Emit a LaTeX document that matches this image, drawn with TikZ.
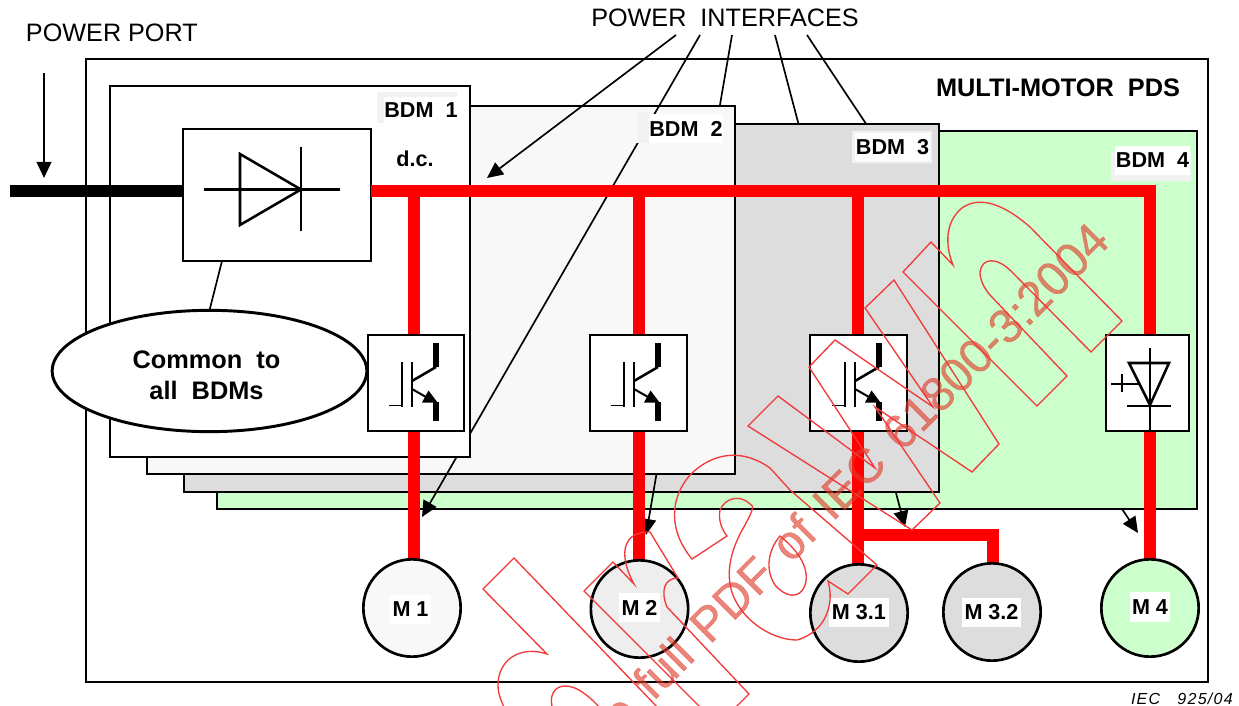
\documentclass[tikz,border=0pt]{standalone}
\usepackage{fontspec}
\setmainfont{Liberation Sans}
\newfontfamily\wmfont[FakeBold=0.5]{Liberation Sans}
\usetikzlibrary{arrows.meta,shapes.geometric}
\definecolor{bfour}{HTML}{CCFFCC}
\definecolor{bthree}{HTML}{DDDDDD}
\definecolor{btwo}{HTML}{F8F8F8}
\definecolor{mtwo}{HTML}{EEEEEE}
\definecolor{lshade}{HTML}{F2F2F2}
\definecolor{wmline}{HTML}{F23A3A}
\definecolor{wmtext}{HTML}{E03A28}
\newcommand\mybox[6]{\node[bx,fill=#6,minimum width={(#4-#2)*0.75pt},minimum height={(#5-#3)*0.75pt}] (#1) at ({(#2+#4)/2},{(#3+#5)/2}) {};}
\newcommand\mylabel[6]{\node[lab,minimum width={(#4-#2)*0.75pt},minimum height={(#5-#3)*0.75pt}] (#1) at ({(#2+#4)/2},{(#3+#5)/2}) {#6};}
\newcommand\myshade[5]{\node[shd,minimum width={(#4-#2)*0.75pt},minimum height={(#5-#3)*0.75pt}] (#1) at ({(#2+#4)/2},{(#3+#5)/2}) {};}
\tikzset{
  bx/.style={draw=black,line width=2.2pt,rectangle,inner sep=0pt,outer sep=0pt},
  lab/.style={fill=white,inner sep=0pt,outer sep=0pt,font=\fontsize{16.2}{18}\selectfont\bfseries},
  shd/.style={fill=lshade,inner sep=0pt,outer sep=0pt},
  mot/.style={circle,minimum size=73pt,inner sep=0pt,outer sep=0pt},
  bus/.style={draw=red,line width=8.8pt},
  lead/.style={draw=black,line width=1.25pt},
  arr/.style={lead,-{Triangle[length=12pt,width=11pt]}},
  sym/.style={draw=black,line width=1.9pt,line join=miter},
  captext/.style={inner sep=0pt,outer sep=0pt,font=\fontsize{18.9}{23}\selectfont},
  wm/.style={draw=wmline,line width=1pt,line join=miter},
  igbt/.pic={
    \draw[black,line width=4.4pt] (68,8) -- (68,32);
    \draw[black,line width=1.9pt] (68,32) -- (44,46);
    \draw[black,line width=1.4pt] (44,27) -- (44,72);
    \draw[black,line width=1.4pt] (34,27) -- (34,72);
    \draw[black,line width=.6pt] (21,70) -- (34,70);
    \draw[black,line width=1.5pt] (44,54) -- (58,62);
    \fill[black] (60.5,55.5) -- (54,67.5) -- (69.5,67.5) -- cycle;
    \draw[black,line width=4.4pt] (68,67) -- (68,86);
  }
}
\begin{document}
\begin{tikzpicture}[x=0.75pt,y=-0.75pt]
\useasboundingbox (0,0) rectangle (1239,706);

% outer frame
\mybox{pds}{86}{59}{1208}{682}{white}

% free ends of the interface leaders
\node[captext] (pi) at (725,18) {POWER\ \ INTERFACES};
\coordinate (ia) at (676,35);  \coordinate (ib) at (700,35);
\coordinate (ic) at (732,35);  \coordinate (id) at (775,35);
\coordinate (ie) at (807,35);
\coordinate (ta) at (487,178); \coordinate (tb) at (422,517);
\coordinate (tc) at (646,535); \coordinate (td) at (905,527);
\coordinate (te) at (1138,533);

% BDM blocks stacked, leaders pass under the blocks in front
\draw[arr] (ie) -- (te);
\mybox{bdmd}{217}{131}{1197}{509}{bfour}
\draw[arr] (id) -- (td);
\mybox{bdmc}{184}{124}{939}{492}{bthree}
\draw[arr] (ic) -- (tc);
\mybox{bdmb}{147}{106}{735}{474}{btwo}
\draw[arr] (ib) -- (tb);
\mybox{bdma}{110}{86}{470}{457}{white}
\draw[arr] (ia) -- (ta);

% power port
\node[captext,anchor=west] (port) at (26,33) {POWER PORT};
\coordinate (pa) at (44,73); \coordinate (pb) at (44,178);
\draw[arr] (pa) -- (pb);
\coordinate (wire) at (10,191);
\mybox{rect}{183}{129}{371}{261}{white}
\draw[black,line width=8.8pt] (wire) -- (wire -| rect.west);

% bus
\coordinate (busl) at (371,191);
\coordinate (busa) at (414,191);
\coordinate (busb) at (639,191);
\coordinate (busc) at (858,191);
\coordinate (busd) at (1150,191);
\coordinate (jun) at (858,535);
\coordinate (junr) at (993,535);

\mybox{swa}{368}{335}{464}{431}{white}
\mybox{swb}{590}{335}{687}{431}{white}
\mybox{swc}{810}{335}{907}{431}{white}
\mybox{swd}{1106}{335}{1189}{431}{white}

\node[mot] (ma) at (412,608) {};
\node[mot] (mb) at (639.5,609) {};
\node[mot] (mc) at (859,613) {};
\node[mot] (me) at (992,612) {};
\node[mot] (md) at (1150,608) {};

\draw[bus,line join=miter] (busl) -- (busd) -- (swd.north -| busd);
\draw[bus] (busa) -- (swa.north -| busa);
\draw[bus] (busb) -- (swb.north -| busb);
\draw[bus] (busc) -- (swc.north -| busc);
\draw[bus] (swa.south -| busa) -- (ma.north -| busa);
\draw[bus] (swb.south -| busb) -- (mb.north -| busb);
\draw[bus] (swc.south -| busc) -- (mc.north -| busc);
\draw[bus] (swd.south -| busd) -- (md.north -| busd);
\draw[bus,line join=miter] (jun) -- (junr) -- (me.north -| junr);

% box frames and motor circles over the red ends
\foreach \n in {swa,swb,swc,swd} {\draw[black,line width=2.2pt] (\n.north west) rectangle (\n.south east);}
\foreach \n/\c in {ma/btwo,mb/mtwo,mc/bthree,me/bthree,md/bfour} {\draw[black,line width=2pt,fill=\c] (\n) circle (36.5pt);}

% rectifier symbol
\draw[sym] (204,189.5) -- (340,189.5);
\draw[sym] (240,154) -- (240,225) -- (301,189.5) -- cycle;
\draw[sym] (301,147) -- (301,231);

% semiconductor symbols
\pic at (368,335) {igbt};
\pic at (590,335) {igbt};
\pic at (811,335) {igbt};
\draw[sym] (1150,348) -- (1150,431);
\draw[sym] (1129,363) -- (1169,363) -- (1150,405) -- cycle;
\draw[sym] (1127,406) -- (1171,406);
\draw[sym] (1111,384) -- (1139,384);
\draw[sym] (1122,374) -- (1122,392);

% common-to-all note
\node[ellipse,draw=black,line width=2.2pt,fill=white,minimum width=236pt,minimum height=91pt,inner sep=0pt,outer sep=0pt] (common) at (209.5,371) {};
\node[inner sep=0pt,align=center,font=\fontsize{19}{23.2}\selectfont\bfseries] (commontext) at (206.5,375) {Common\ \ to\\all\ \ BDMs};
\coordinate (cu) at (222,261);
\draw[lead] (cu) -- (common.north);

% labels
\myshade{sa}{377}{92}{457}{123}
\mylabel{la}{384}{97}{458}{123}{BDM\ \ 1}
\myshade{sb}{637}{112}{650}{143}
\mylabel{lb}{649}{114}{723}{143}{BDM\ \ 2}
\myshade{sc}{852}{131}{932}{163}
\mylabel{lc}{855}{133}{930}{161}{BDM\ \ 3}
\myshade{sd}{1111}{152}{1191}{181}
\mylabel{ld}{1115}{146}{1190}{175}{BDM\ \ 4}
\node[lab,fill=none] (dc) at (415,159) {d.c.};
\node[captext,font=\fontsize{19}{23}\selectfont\bfseries,anchor=east] (title) at (1180,88) {MULTI-MOTOR\ \ PDS};
\mylabel{ta1}{390}{595}{431}{624}{M 1}
\mylabel{ta2}{619}{593}{660}{622}{M 2}
\mylabel{ta3}{829}{598}{889}{627}{M 3.1}
\mylabel{ta5}{962}{598}{1021}{627}{M 3.2}
\mylabel{ta4}{1130}{592}{1170}{622}{M 4}
\node[inner sep=0pt,anchor=east,font=\fontsize{12}{14}\selectfont\itshape\addfontfeature{LetterSpace=8}] (iec) at (1233,699) {IEC\ \ \ 925/04};

% watermark
\begin{scope}
\clip (0,0) rectangle (1239,706);
\node[inner sep=0pt,anchor=base east,rotate=45,text=wmtext,text opacity=.62,font=\wmfont\fontsize{36}{40}\selectfont] (wmt) at (1112,243) {\spaceskip=14pt\relax e full PDF of IEC 61800-3:2004};
\draw[wm] (748,426) -- (778,396) -- (875,468) -- (809,367) -- (835,340) -- (933,407) -- (865,308) -- (894,280) -- (999,444) -- (972,472) -- (875,407) -- (940,503) -- (912,530) -- cycle;
\draw[wm] (903,272) -- (931,242) -- (953,265) .. controls (945,245) and (945,222) .. (962,208) .. controls (980,195) and (1005,205) .. (1030,227) -- (1122,321) -- (1091,352) -- (1012,272) .. controls (996,256) and (982,258) .. (980,272) .. controls (980,280) and (984,288) .. (990,295) -- (1067,376) -- (1037,406) -- cycle;
\draw[wm] (692,559) .. controls (668,530) and (670,498) .. (690,475) .. controls (715,450) and (745,450) .. (770,468) -- (790,490) -- (877,565) -- (848,594) -- (828,581) .. controls (835,605) and (825,632) .. (797,640) .. controls (775,640) and (750,625) .. (738,605) .. controls (722,580) and (730,550) .. (745,525) .. controls (752,512) and (755,505) .. (750,504) .. controls (740,494) and (725,498) .. (720,510) .. controls (718,520) and (722,530) .. (727,536) -- cycle;
\draw[wm] (780,536) .. controls (768,550) and (765,570) .. (775,585) .. controls (785,597) and (800,600) .. (805,585) .. controls (810,570) and (800,552) .. (780,536) -- cycle;
\draw[wm] (703,710) -- (584,591) -- (613,562) -- (634,584) .. controls (624,566) and (620,545) .. (633,536) .. controls (640,532) and (645,532) .. (650,532) -- (678,578) .. controls (665,578) and (660,590) .. (667,607) -- (749,694) -- (730,713);
\draw[wm] (660,710) -- (514,558) -- (483,589) -- (547,654) .. controls (520,645) and (498,660) .. (498,685) .. controls (498,695) and (502,702) .. (505,710);
\draw[wm] (553,710) .. controls (548,695) and (555,686) .. (565,686) .. controls (578,686) and (590,697) .. (602,710);
\end{scope}
\end{tikzpicture}
\end{document}
